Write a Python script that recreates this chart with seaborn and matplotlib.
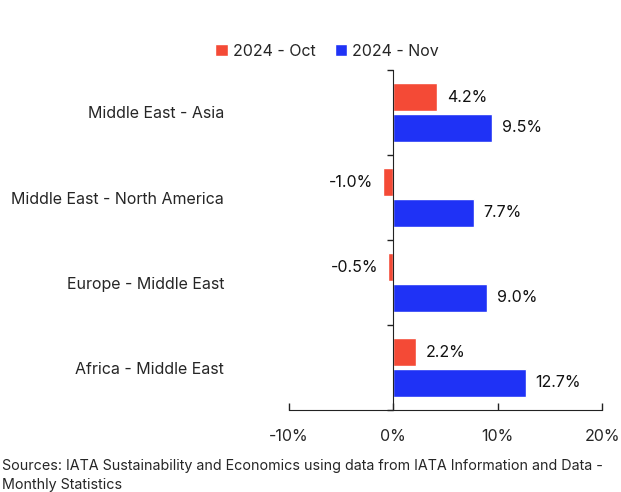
import numpy as np
import pandas as pd
import matplotlib
matplotlib.use('Agg')
import matplotlib.pyplot as plt
import seaborn as sns

# Data
routes = ['Middle East - Asia', 'Middle East - North America', 'Europe - Middle East', 'Africa - Middle East']
periods = ['2024 - Oct', '2024 - Nov']
oct_vals = [4.2, -1.0, -0.5, 2.2]
nov_vals = [9.5, 7.7, 9.0, 12.7]
x_ticks = [-10, 0, 10, 20]
source = 'Sources: IATA Sustainability and Economics using data from IATA Information and Data -\nMonthly Statistics'

df = pd.DataFrame({
    'route': routes * 2,
    'period': [periods[0]] * len(routes) + [periods[1]] * len(routes),
    'value': oct_vals + nov_vals,
})

sns.set_style('white')
plt.rcParams['font.family'] = ['Inter', 'DejaVu Sans']
fs = 11.5

fig = plt.figure(figsize=(6.21, 4.92), dpi=100)
ax = fig.add_axes([289 / 621, 1 - 410 / 492, 313 / 621, 340 / 492])

sns.barplot(data=df, y='route', x='value', hue='period', orient='h',
            palette=['#F44A36', '#1F32F6'], width=0.72, gap=0.1,
            saturation=1, ax=ax, legend=True)

for c in ax.containers:
    ax.bar_label(c, labels=[f'{v:.1f}%' for v in c.datavalues], padding=7, fontsize=fs, color='#111111')

ax.set_xlim(-10, 20)
ax.set_ylim(3.5, -0.5)
ax.set_xticks(x_ticks)
ax.set_xticklabels([f'{t}%' for t in x_ticks], fontsize=fs)
ax.set_xlabel('')
ax.set_ylabel('')

for s in ['top', 'right']:
    ax.spines[s].set_visible(False)
ax.spines['left'].set_position(('data', 0))
ax.spines['left'].set_color('#222222')
ax.spines['bottom'].set_color('#222222')

ax.tick_params(axis='x', bottom=True, direction='in', length=5, width=1, color='#222222', pad=14)
ax.tick_params(axis='y', which='major', left=True, length=0, pad=122, labelsize=fs)
ax.set_yticks(np.arange(-0.5, 4, 1), minor=True)
ax.tick_params(axis='y', which='minor', left=True, direction='out', length=4, width=1, color='#222222')

h, l = ax.get_legend_handles_labels()
ax.get_legend().remove()
fig.legend(h, l, loc='center', bbox_to_anchor=(327 / 621, 1 - 51 / 492), ncol=2,
           frameon=False, fontsize=fs, handlelength=0.8, handleheight=0.8,
           handletextpad=0.3, columnspacing=1.2)

fig.text(2 / 621, 1 - 459 / 492, source, fontsize=10.3, va='top', ha='left', linespacing=1.45)

fig.savefig('out.png', dpi=100)
